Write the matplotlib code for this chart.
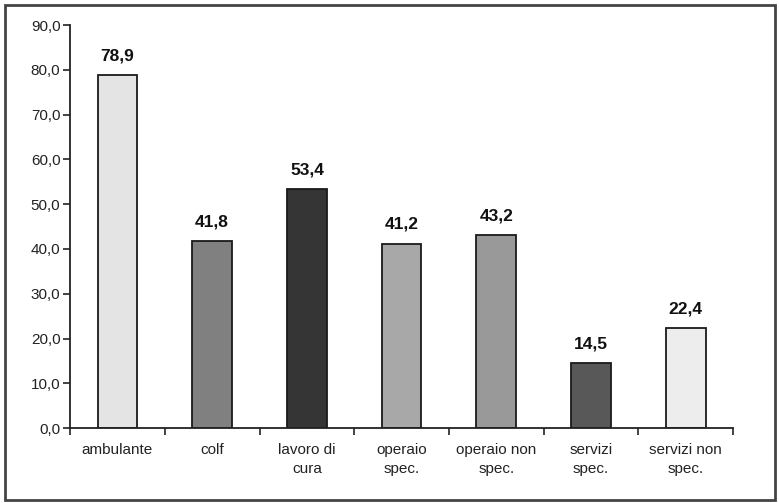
import numpy as np
import matplotlib.pyplot as plt
from matplotlib.patches import Rectangle
from matplotlib.ticker import FixedLocator

plt.rcParams['font.family'] = ['Liberation Sans', 'DejaVu Sans']

categorie = ["ambulante", "colf", "lavoro di\ncura", "operaio\nspec.",
             "operaio non\nspec.", "servizi\nspec.", "servizi non\nspec."]
valori = [78.9, 41.8, 53.4, 41.2, 43.2, 14.5, 22.4]
colori = ["#e4e4e4", "#808080", "#353535", "#a8a8a8", "#999999", "#585858", "#ededed"]

fig = plt.figure(figsize=(7.79, 5.03), dpi=100)
ax = fig.add_axes([0.090, 0.149, 0.851, 0.801])

x = np.arange(len(categorie))
ax.bar(x, valori, width=0.42, color=colori, edgecolor="#1a1a1a", linewidth=1.3)

for xi, v in zip(x, valori):
    ax.text(xi, v + 2.6, f"{v:.1f}".replace(".", ","), ha="center", va="bottom",
            fontsize=12.5, fontweight="bold", color="#111111")

ax.set_xlim(-0.5, len(categorie) - 0.5)
ax.set_ylim(0, 90)
ax.set_yticks(np.arange(0, 91, 10))
ax.set_yticklabels([f"{t:.1f}".replace(".", ",") for t in np.arange(0, 91, 10)])
ax.set_xticks(x)
ax.set_xticklabels(categorie, fontsize=11, color="#222222", linespacing=1.45)
ax.xaxis.set_minor_locator(FixedLocator(np.arange(-0.5, len(categorie), 1.0)))
ax.tick_params(axis="x", which="major", length=0, pad=11)
ax.tick_params(axis="x", which="minor", length=5, width=1.2, color="#222222", direction="out")
ax.tick_params(axis="y", length=5, width=1.2, color="#222222", labelsize=11,
               labelcolor="#222222", pad=2)

for s in ["top", "right"]:
    ax.spines[s].set_visible(False)
for s in ["left", "bottom"]:
    ax.spines[s].set_linewidth(1.3)
    ax.spines[s].set_color("#222222")

# cornice esterna
fig.patches.append(Rectangle((0.006, 0.005), 0.989, 0.986, transform=fig.transFigure,
                             fill=False, edgecolor="#444444", linewidth=2))

fig.savefig("out.png", dpi=100)
